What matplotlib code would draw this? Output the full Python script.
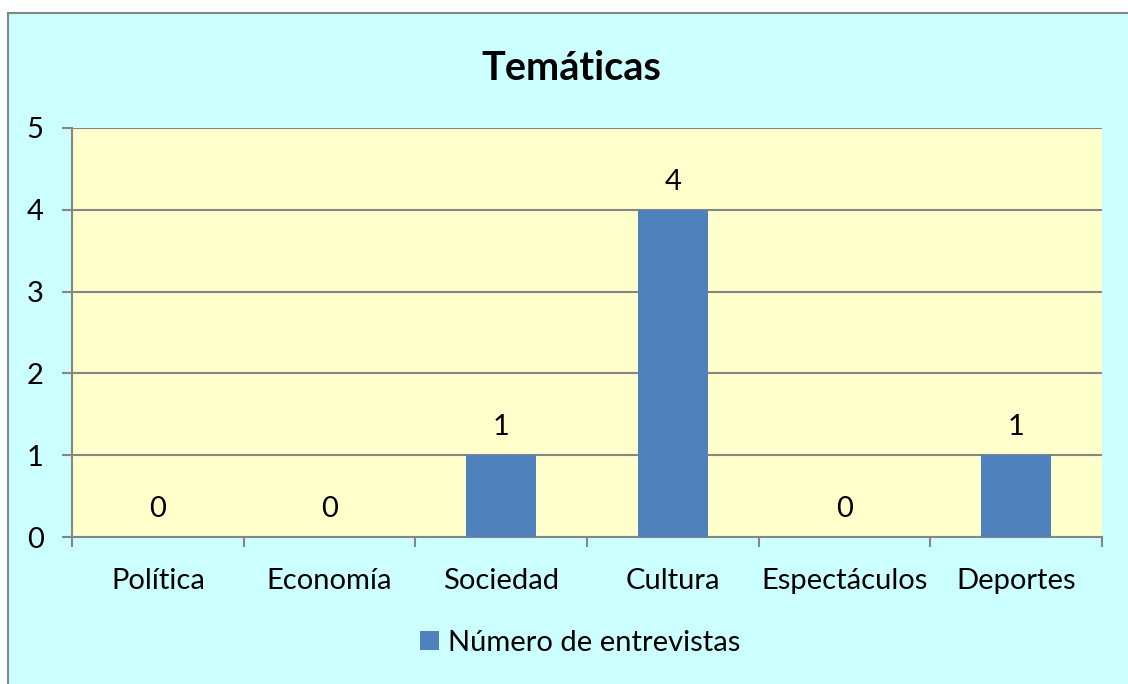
import matplotlib
matplotlib.use("Agg")
import matplotlib.pyplot as plt
from matplotlib.patches import Rectangle

categories = ["Política", "Economía", "Sociedad", "Cultura", "Espectáculos", "Deportes"]
values = [0, 0, 1, 4, 0, 1]
series_name = "Número de entrevistas"
title = "Temáticas"
yticks = [0, 1, 2, 3, 4, 5]

plt.rcParams['font.family'] = ['Lato', 'DejaVu Sans']

W, H = 1128, 684
FS = 21
fig = plt.figure(figsize=(W / 100, H / 100), dpi=100)
fig.patch.set_facecolor('white')

# chart area background with gray border (left/top only visible)
bg = Rectangle((8 / W, -0.2), 1.3, 1 - 13 / H + 0.2, transform=fig.transFigure,
               facecolor='#CCFFFF', edgecolor='#868686', linewidth=1.5, zorder=-10)
fig.patches.append(bg)

ax = fig.add_axes([72 / W, 1 - 537 / H, (1102 - 72) / W, (537 - 128) / H])
ax.set_zorder(5)
ax.set_facecolor('#FFFFCC')

x = list(range(len(categories)))
bars = ax.bar(x, values, width=0.41, color='#4F81BD', zorder=3, label=series_name)

ax.set_xlim(-0.5, len(categories) - 0.5)
ax.set_ylim(0, 5)
ax.set_yticks(yticks)
ax.set_yticklabels([str(t) for t in yticks])
ax.yaxis.grid(True, color='#868686', linewidth=1.5, zorder=1)
ax.set_axisbelow(True)

ax.set_xticks(x)
ax.set_xticklabels(categories)
ax.set_xticks([i - 0.5 for i in range(len(categories) + 1)], minor=True)
ax.tick_params(axis='x', which='major', length=0, pad=22, labelsize=FS)
ax.tick_params(axis='x', which='minor', length=7.5, width=1.5, color='#868686', direction='out')
ax.tick_params(axis='y', length=7.5, width=1.5, color='#868686', pad=13, labelsize=FS)

for side in ['top', 'right']:
    ax.spines[side].set_visible(False)
for side in ['left', 'bottom']:
    ax.spines[side].set_color('#868686')
    ax.spines[side].set_linewidth(1.5)

for xi, v in zip(x, values):
    ax.annotate(str(v), (xi, v), xytext=(0, 20), textcoords='offset points',
                ha='center', va='center', fontsize=FS, color='black')

fig.text(571 / W, 1 - 68 / H, title, ha='center', va='center', fontsize=28.5, fontweight='bold')

leg = fig.legend(handles=[bars], labels=[series_name], loc='center', bbox_to_anchor=(580 / W, 1 - 643 / H),
                 frameon=False, fontsize=FS, handlelength=0.65, handleheight=0.65, handletextpad=0.3)

fig.savefig('out.png', dpi=100)
